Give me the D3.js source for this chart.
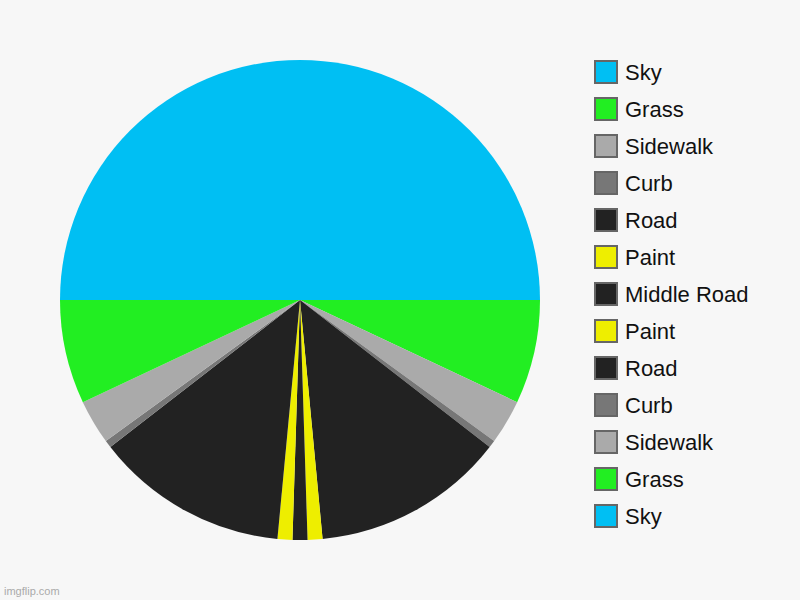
<!DOCTYPE html>
<html>
<head>
<meta charset="utf-8">
<script src="https://cdn.jsdelivr.net/npm/d3@7"></script>
<style>
  body { margin: 0; background: #f7f7f7; }
  svg { display: block; }
</style>
</head>
<body>
<div id="chart"></div>
<script>
// slice data, clockwise from 12 o'clock
var labels = ["Sky", "Grass", "Sidewalk", "Curb", "Road", "Paint", "Middle Road", "Paint", "Road", "Curb", "Sidewalk", "Grass", "Sky"];
var values = [25, 7, 3, 0.5, 13, 1, 1, 1, 13, 0.5, 3, 7, 25];
var colors = ["#00bff3", "#22ee22", "#aaaaaa", "#777777", "#222222", "#eeee00", "#222222", "#eeee00", "#222222", "#777777", "#aaaaaa", "#22ee22", "#00bff3"];

var width = 800;
var height = 600;
var svg = d3.select("#chart")
    .append("svg")
    .attr("width", width)
    .attr("height", height);

svg.append("rect")
    .attr("width", width)
    .attr("height", height)
    .attr("fill", "#f7f7f7");

var radius = 240;
var pie = d3.pie().sort(null).value(function (d) { return d; });
var arc = d3.arc().innerRadius(0).outerRadius(radius);

var g = svg.append("g").attr("transform", "translate(300,300)");
g.selectAll("path")
    .data(pie(values))
    .enter()
    .append("path")
    .attr("d", arc)
    .attr("fill", function (d, i) { return colors[i]; });

// legend
var y = d3.scaleBand()
    .domain(d3.range(labels.length))
    .range([53.5, 534.5]);

var legend = svg.append("g");
var item = legend.selectAll("g")
    .data(labels)
    .enter()
    .append("g")
    .attr("transform", function (d, i) { return "translate(595," + (y(i) + y.bandwidth() / 2) + ")"; });

item.append("rect")
    .attr("x", 0)
    .attr("y", -11)
    .attr("width", 22)
    .attr("height", 22)
    .attr("fill", function (d, i) { return colors[i]; })
    .attr("stroke", "#666")
    .attr("stroke-width", 2);

item.append("text")
    .attr("x", 30)
    .attr("y", 8)
    .attr("font-family", "Liberation Sans, Arial, sans-serif")
    .attr("font-size", 22)
    .attr("fill", "#111")
    .text(function (d) { return d; });

svg.append("text")
    .attr("x", 4)
    .attr("y", 595)
    .attr("font-family", "Liberation Sans, Arial, sans-serif")
    .attr("font-size", 11)
    .attr("fill", "#aaa")
    .text("imgflip.com");
</script>
</body>
</html>
